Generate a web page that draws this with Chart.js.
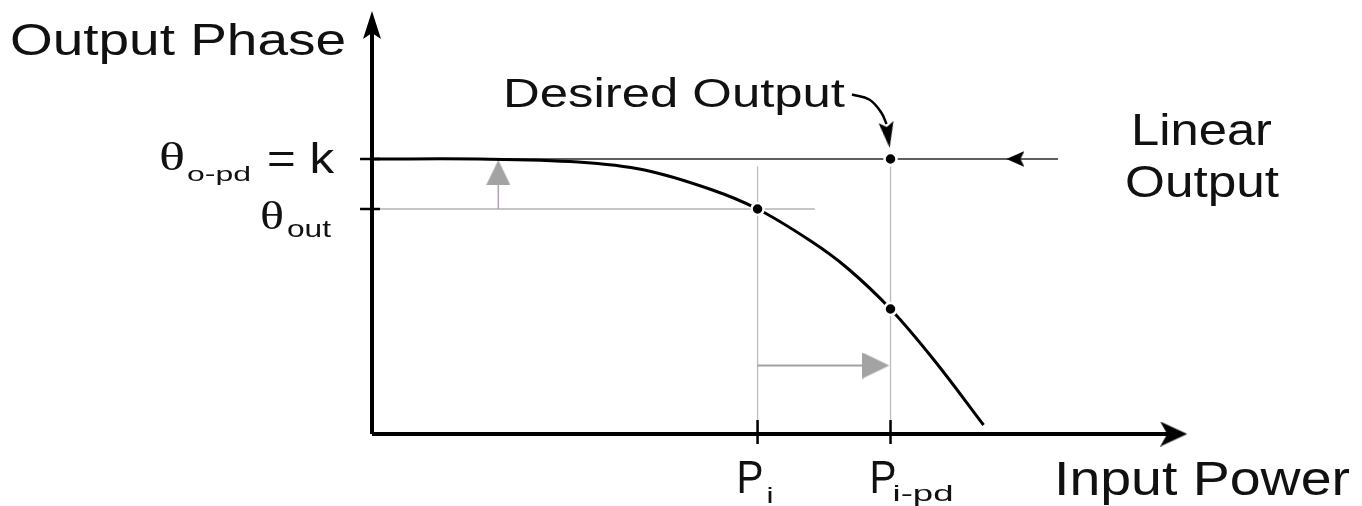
<!DOCTYPE html>
<html>
<head>
<meta charset="utf-8">
<script src="https://cdn.jsdelivr.net/npm/chart.js@4"></script>
<style>
  html, body { margin: 0; padding: 0; background: #fff; }
  #wrap { width: 1362px; height: 506px; }
</style>
</head>
<body>
<div id="wrap"><canvas id="phaseChart"></canvas></div>
<script>
"use strict";

// output phase vs input power (phase compression sketch)
const curveX = [0, 0.8, 1.55, 2.05, 2.55, 2.9, 3.3, 3.57, 3.9, 4.23, 4.6];
const curveY = [5.5, 5.5, 5.44, 5.28, 4.89, 4.5, 3.86, 3.33, 2.5, 1.47, 0.18];

const phaseK = 5.5;     // θo-pd = k
const phaseOut = 4.5;   // θout
const powerIn = 2.9;    // Pi
const powerPd = 3.9;    // Pi-pd
const compressed = 2.5; // curve value at Pi-pd

const xMax = 6.13;
const yMax = 8.46;
const linearEnd = 5.16;
const outLineEnd = 3.33;
const guideTop = 5.35;

const xTickValues = [powerIn, powerPd];
const xTickLabels = [["P", "i"], ["P", "i-pd"]];
const yTickValues = [phaseK, phaseOut];
const yTickLabels = [["θ", "o-pd", "= k"], ["θ", "out"]];

const desiredX = [3.61, 3.74, 3.83, 3.87];
const desiredY = [6.79, 6.69, 6.43, 6.2];

const SANS = '"Liberation Sans", Arial, sans-serif';
const SERIF = '"Liberation Serif", "Times New Roman", serif';

function arrowHead(len, wid, color, notch) {
  const c = document.createElement("canvas");
  c.width = wid;
  c.height = len;
  const g = c.getContext("2d");
  g.fillStyle = color;
  g.beginPath();
  g.moveTo(wid / 2, 0);
  g.lineTo(wid, len);
  g.lineTo(wid / 2, len - notch);
  g.lineTo(0, len);
  g.closePath();
  g.fill();
  return c;
}

function line(xv, yv, color, width, extra) {
  return Object.assign({
    data: xv.map((x, i) => ({ x, y: yv[i] })),
    showLine: true,
    borderColor: color,
    borderWidth: width,
    pointRadius: 0,
    clip: false
  }, extra || {});
}

function head(x, y, img, rot) {
  return {
    data: [{ x, y }],
    showLine: false,
    pointStyle: img,
    pointRadius: 10,
    pointRotation: rot,
    clip: false
  };
}

// bottom layer first, reversed at the end so it draws under the rest
const layers = [];
layers.push(line([0, linearEnd], [phaseK, phaseK], "#2a2a2a", 1.3));
layers.push(line([0, outLineEnd], [phaseOut, phaseOut], "#8e8e8e", 1.2));
xTickValues.forEach(v => layers.push(line([v, v], [0, guideTop], "#c4b8c6", 1.3)));
layers.push(line([0.95, 0.95], [phaseOut, 5.0], "#b39fb6", 1.5));
layers.push(line([powerIn, 3.7], [1.37, 1.37], "#a2a2a2", 2));
layers.push(head(0.95, 5.23, arrowHead(25, 24, "#a3a3a3", 0), 0));
layers.push(head(3.79, 1.37, arrowHead(27, 26, "#a3a3a3", 0), 90));
layers.push(line(curveX, curveY, "#000", 3, { tension: 0.35 }));
layers.push(line([0, 0], [0, 8.1], "#000", 4));
layers.push(line([0, 6.0], [0, 0], "#000", 4));
yTickValues.forEach(v => layers.push(line([-0.09, 0.06], [v, v], "#000", 2.5)));
xTickValues.forEach(v => layers.push(line([v, v], [0.28, -0.2], "#000", 2.5)));
layers.push(head(0, 8.18, arrowHead(28, 18, "#000", 6), 0));
layers.push(head(6.03, 0, arrowHead(27, 25, "#000", 7), 90));
layers.push(head(4.84, phaseK, arrowHead(18, 16, "#000", 4), 270));
layers.push(line(desiredX, desiredY, "#000", 2.5, { tension: 0.4 }));
layers.push(head(3.88, 5.98, arrowHead(26, 15, "#000", 5), 172));
layers.push({
  data: [{ x: powerIn, y: phaseOut }, { x: powerPd, y: compressed }, { x: powerPd, y: phaseK }],
  showLine: false,
  pointRadius: 6,
  pointBackgroundColor: "#000",
  pointBorderColor: "#fff",
  pointBorderWidth: 2.5,
  clip: false
});
const datasets = layers.reverse();

function fitText(ctx, str, x, y, size, width, family) {
  ctx.font = size + "px " + (family || SANS);
  const w = ctx.measureText(str).width;
  ctx.save();
  ctx.translate(x, y);
  ctx.scale(width / w, 1);
  ctx.fillText(str, 0, 0);
  ctx.restore();
}

// label layout: offsets from the tick pixel
const yLabelLayout = [
  [{ dx: -213, dy: 11, size: 40, w: 26, serif: true }, { dx: -185, dy: 22, size: 21, w: 64 }, { dx: -105, dy: 14, size: 42, w: 67 }],
  [{ dx: -112, dy: 20, size: 40, w: 24, serif: true }, { dx: -85, dy: 28, size: 24, w: 44 }]
];
const xLabelLayout = [
  [{ dx: -21, dy: 59, size: 46, w: 27 }, { dx: 9, dy: 69, size: 22, w: 7 }],
  [{ dx: -21, dy: 59, size: 46, w: 27 }, { dx: 2, dy: 67, size: 22, w: 61 }]
];

const labelPlugin = {
  id: "labels",
  afterDraw(chart) {
    const ctx = chart.ctx;
    const xs = chart.scales.x, ys = chart.scales.y;
    const x0 = xs.getPixelForValue(0), y0 = ys.getPixelForValue(0);
    ctx.save();
    ctx.fillStyle = "#111";
    ctx.textBaseline = "alphabetic";
    ctx.textAlign = "left";

    yTickValues.forEach((v, i) => {
      const py = ys.getPixelForValue(v);
      yTickLabels[i].forEach((s, j) => {
        const l = yLabelLayout[i][j];
        fitText(ctx, s, x0 + l.dx, py + l.dy, l.size, l.w, l.serif ? SERIF : SANS);
      });
    });
    xTickValues.forEach((v, i) => {
      const px = xs.getPixelForValue(v);
      xTickLabels[i].forEach((s, j) => {
        const l = xLabelLayout[i][j];
        fitText(ctx, s, px + l.dx, y0 + l.dy, l.size, l.w);
      });
    });

    fitText(ctx, "Output Phase", x0 - 362, 55, 44, 336);
    fitText(ctx, "Input Power", 1054, y0 + 61, 48, 296);
    fitText(ctx, "Desired Output", 503, 107, 40, 342);
    fitText(ctx, "Linear", 1131, 145, 44, 141);
    fitText(ctx, "Output", 1125, 197, 44, 154);
    ctx.restore();
  }
};

new Chart(document.getElementById("phaseChart"), {
  type: "scatter",
  data: { datasets },
  options: {
    responsive: true,
    maintainAspectRatio: false,
    animation: false,
    layout: { padding: { left: 372, right: 175, top: 8, bottom: 72 } },
    plugins: { legend: { display: false }, tooltip: { enabled: false } },
    scales: {
      x: { type: "linear", min: 0, max: xMax, display: false },
      y: { type: "linear", min: 0, max: yMax, display: false }
    }
  },
  plugins: [labelPlugin]
});
</script>
</body>
</html>
